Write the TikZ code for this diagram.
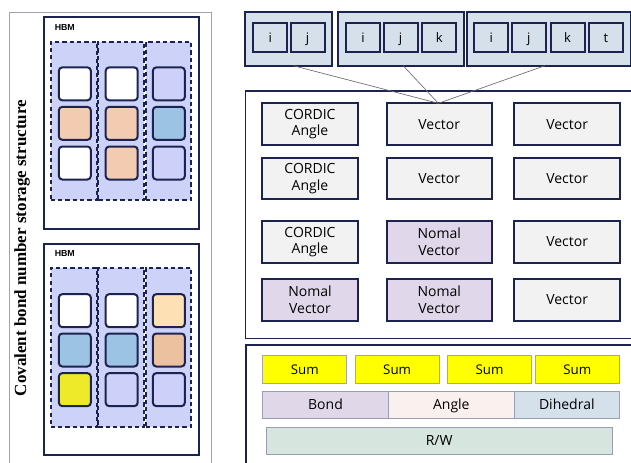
\documentclass[tikz,border=0pt]{standalone}
\usepackage{fontspec}
\setmainfont{Open Sans}
\newfontfamily\captionserif{Liberation Serif}
\newfontfamily\tagsans{Liberation Sans}

% palette
\definecolor{navy}{HTML}{1C2350}
\definecolor{panelgray}{HTML}{A0A2B2}
\definecolor{colLav}{HTML}{CDD2F8}
\definecolor{cellLav}{HTML}{CDD0F8}
\definecolor{cellPeach}{HTML}{F3CBB0}
\definecolor{cellBlue}{HTML}{9CC2E4}
\definecolor{cellTan}{HTML}{EBC19F}
\definecolor{cellCream}{HTML}{FDE1B5}
\definecolor{cellYellow}{HTML}{EEEA2A}
\definecolor{groupFill}{HTML}{D5E0EA}
\definecolor{boxGray}{HTML}{F2F2F2}
\definecolor{nomalFill}{HTML}{E0D8EA}
\definecolor{sumYellow}{HTML}{FFFF00}
\definecolor{bondFill}{HTML}{E0D8E9}
\definecolor{angleFill}{HTML}{FAF0EE}
\definecolor{dihedralFill}{HTML}{D4E1EB}
\definecolor{rwFill}{HTML}{D6E6DF}
\definecolor{thinEdge}{HTML}{9A9EB2}

\begin{document}
\begin{tikzpicture}[x=0.75pt,y=-0.75pt,
  wh/.style 2 args={minimum width=#1*0.75pt, minimum height=#2*0.75pt},
  area/.style={inner sep=0pt, outer sep=0pt},
  outerpanel/.style={area, draw=panelgray, line width=0.9pt},
  hbm/.style={area, draw=navy, line width=1.6pt},
  hbmtag/.style={font=\tagsans\bfseries\fontsize{6.6}{8}\selectfont, inner sep=0pt},
  column/.style={area, draw=navy, fill=colLav, line width=1.3pt, dash pattern=on 3.2pt off 2.3pt},
  cell/.style={draw=navy, line width=1.5pt, rounded corners=2.6pt,
    wh={32}{33}, inner sep=0pt},
  group/.style={area, draw=navy, fill=groupFill, line width=1.5pt},
  idx/.style={draw=navy, fill=groupFill, line width=1.5pt, wh={34}{29.5},
    inner sep=0pt, text height=7.2pt, text depth=0.6pt, font=\fontsize{9.8}{11}\selectfont},
  midpanel/.style={area, draw=navy, line width=0.8pt},
  unit/.style={area, draw=navy, fill=boxGray, line width=1.6pt, align=center,
    font=\fontsize{10.5}{12.6}\selectfont},
  link/.style={draw=gray!85!black, line width=0.5pt},
  sumbox/.style={area, draw=gray!70, fill=sumYellow, line width=0.6pt, wh={84}{27.6},
    text height=7.2pt, text depth=0pt, font=\fontsize{10}{12}\selectfont},
  termbox/.style={area, draw=thinEdge, line width=0.6pt, text height=7.6pt,
    text depth=0pt, font=\fontsize{10.5}{12}\selectfont},
]
\clip (0,0) rectangle (631,462);

% ---------- storage structure (left) ----------
\node[outerpanel, wh={202}{467.5}] (store) at (110.5,246.25) {};
\node[rotate=90, inner sep=0pt, font=\captionserif\bfseries\fontsize{12.75}{14}\selectfont]
  (storelabel) at (22,248) {Covalent bond number storage structure};

% upper HBM block
\node[hbm, wh={155}{212}] (hbmA) at (121.5,123) {};
\node[hbmtag, anchor=west] (hbmAtag) at (54.5,27) {HBM};
\node[column, wh={46.1}{158.3}] (colA1) at (73.75,120.85) {};
\node[column, wh={45.9}{158.3}] (colA2) at (121.25,120.85) {};
\node[column, wh={45.2}{158.3}] (colA3) at (168.4,120.85) {};
\foreach \r/\y/\ca/\cb/\cc in {1/83.85/white/white/cellLav,
                                2/123.35/cellPeach/cellPeach/cellBlue,
                                3/163/white/cellPeach/cellLav}{
  \node[cell, fill=\ca] (a\r-1) at (74.85,\y) {};
  \node[cell, fill=\cb] (a\r-2) at (121.7,\y) {};
  \node[cell, fill=\cc] (a\r-3) at (168.85,\y) {};
}

% lower HBM block
\node[hbm, wh={155}{211}] (hbmB) at (121.5,349.5) {};
\node[hbmtag, anchor=west] (hbmBtag) at (54.5,253.5) {HBM};
\node[column, wh={46.1}{159}] (colB1) at (73.75,347.2) {};
\node[column, wh={45.9}{159}] (colB2) at (121.25,347.2) {};
\node[column, wh={45.2}{159}] (colB3) at (168.4,347.2) {};
\foreach \r/\y/\ca/\cb/\cc in {1/310.65/white/white/cellCream,
                                2/350/cellBlue/cellBlue/cellTan,
                                3/389.65/cellYellow/cellLav/cellLav}{
  \node[cell, fill=\ca] (b\r-1) at (74.85,\y) {};
  \node[cell, fill=\cb] (b\r-2) at (121.7,\y) {};
  \node[cell, fill=\cc] (b\r-3) at (168.85,\y) {};
}

% ---------- index groups (top right) ----------
\node[group, wh={87.3}{54}] (g1) at (288.65,38.7) {};
\node[group, wh={125.7}{54}] (g2) at (401.15,38.7) {};
\node[group, wh={163.8}{54}] (g3) at (548.6,38.7) {};
\node[idx] (g1i) at (270.2,37.7) {i};
\node[idx] (g1j) at (307.5,37.7) {j};
\node[idx] (g2i) at (363,37.7) {i};
\node[idx] (g2j) at (400.5,37.7) {j};
\node[idx] (g2k) at (439.2,37.7) {k};
\node[idx] (g3i) at (491.3,37.7) {i};
\node[idx] (g3j) at (528.8,37.7) {j};
\node[idx] (g3k) at (567.5,37.7) {k};
\node[idx] (g3t) at (605.8,37.7) {t};

% ---------- compute units (middle right) ----------
\node[midpanel, wh={399.3}{247.3}] (units) at (445.35,214.65) {};
\node[unit, wh={96.6}{41.7}] (u11) at (310,124.15) {CORDIC\\Angle};
\node[unit, wh={105}{41.7}] (u12) at (439.2,124.15) {Vector};
\node[unit, wh={105.7}{41.7}] (u13) at (567.15,124.15) {Vector};
\node[unit, wh={96.6}{41.6}] (u21) at (310,178.5) {CORDIC\\Angle};
\node[unit, wh={105}{41.6}] (u22) at (439.2,178.5) {Vector};
\node[unit, wh={105.7}{41.6}] (u23) at (567.15,178.5) {Vector};
\node[unit, wh={96.6}{42.6}] (u31) at (310,242) {CORDIC\\Angle};
\node[unit, fill=nomalFill, wh={105}{42.6}] (u32) at (439.2,242) {Nomal\\Vector};
\node[unit, wh={105.7}{42.6}] (u33) at (567.15,242) {Vector};
\node[unit, fill=nomalFill, wh={96.6}{41.7}] (u41) at (310,299.85) {Nomal\\Vector};
\node[unit, fill=nomalFill, wh={105}{41.7}] (u42) at (439.2,299.85) {Nomal\\Vector};
\node[unit, wh={105.7}{41.7}] (u43) at (567.15,299.85) {Vector};

% index groups feed the first vector unit
\draw[link] ([xshift=3.5pt]g1.south) -- ([xshift=-0.6pt]u12.north);
\draw[link] ([xshift=1.5pt]g2.south) -- ([xshift=-0.6pt]u12.north);
\draw[link] ([xshift=-2.8pt]g3.south) -- ([xshift=-0.6pt]u12.north);

% ---------- accumulation (bottom right) ----------
\node[area, draw=navy, line width=1.3pt, wh={399.3}{135}] (accum) at (445.35,412.5) {};
\node[sumbox] (sum1) at (304.7,369.5) {Sum};
\node[sumbox] (sum2) at (397.15,369.5) {Sum};
\node[sumbox] (sum3) at (489.5,369.5) {Sum};
\node[sumbox] (sum4) at (577.3,369.5) {Sum};
\node[termbox, fill=bondFill, wh={125.6}{27.3}] (bond) at (325.5,404.65) {Bond};
\node[termbox, fill=angleFill, wh={126}{27.3}] (angle) at (451.3,404.65) {Angle};
\node[termbox, fill=dihedralFill, wh={105}{27.3}] (dihedral) at (566.8,404.65) {Dihedral};
\node[termbox, fill=rwFill, wh={346.3}{27}] (rw) at (439.15,440.8) {R/W};
\end{tikzpicture}
\end{document}
